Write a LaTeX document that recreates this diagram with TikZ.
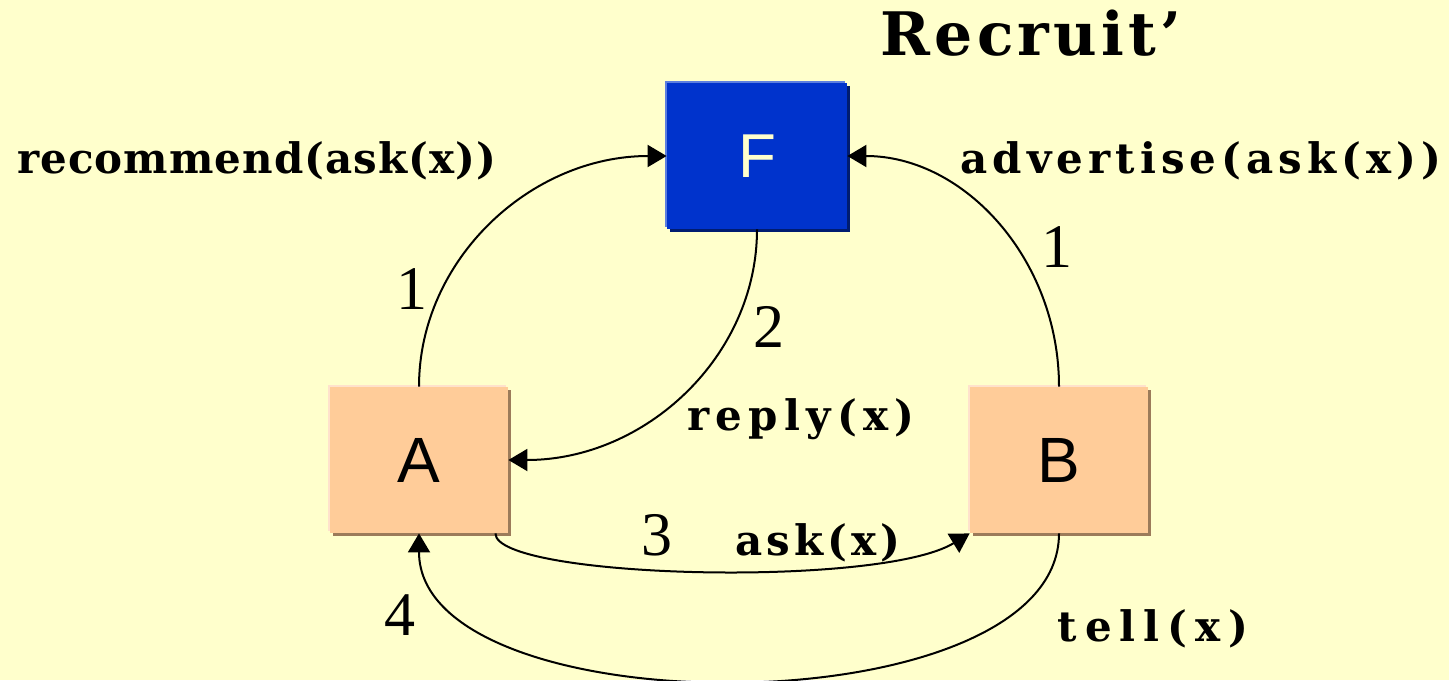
\documentclass[tikz,border=0pt]{standalone}
\usepackage{fontspec}
\setmainfont{Liberation Serif}
\newfontfamily\labelfont{DejaVu Serif}
\newfontfamily\boxfont{Liberation Sans}
\usetikzlibrary{calc}
\usetikzlibrary{arrows.meta}
\usetikzlibrary{shadows}

\definecolor{bgyellow}{HTML}{FFFFCC}
\definecolor{fblue}{HTML}{0033CC}
\definecolor{fshade}{HTML}{001C70}
\definecolor{fedge}{HTML}{5C7FE0}
\definecolor{agentfill}{HTML}{FFCC99}
\definecolor{agentshade}{HTML}{9C7B5A}
\definecolor{agentedge}{HTML}{FFE2CC}

\begin{document}
\begin{tikzpicture}[x=0.5pt,y=-0.5pt,
    agent/.style={minimum width=89pt,minimum height=73pt,inner sep=0pt,
      fill=agentfill,font=\boxfont\fontsize{32}{32}\selectfont,
      general shadow={shadow xshift=1.5pt,shadow yshift=-1.5pt,fill=agentshade},
      general shadow={shadow xshift=-1pt,shadow yshift=1pt,fill=agentedge}},
    facil/.style={minimum width=90pt,minimum height=73pt,inner sep=0pt,
      fill=fblue,text=bgyellow,font=\boxfont\fontsize{31}{31}\selectfont,
      general shadow={shadow xshift=1.5pt,shadow yshift=-1.5pt,fill=fshade},
      general shadow={shadow xshift=-1pt,shadow yshift=1pt,fill=fedge}},
    msg/.style={font=\labelfont\bfseries\fontsize{21}{21}\selectfont\addfontfeature{LetterSpace=#1},anchor=base},
    msg/.default=0,
    num/.style={font=\fontsize{31}{31}\selectfont,anchor=base},
    flow/.style={line width=1pt,-{Triangle[length=9.5pt,width=11pt]}}]

    % Fond
    \useasboundingbox (0,0) rectangle (1449,680);
    \fill[bgyellow] (0,0) rectangle (1449,680);

    % Titre
    \node[font=\labelfont\bfseries\fontsize{30}{30}\selectfont\addfontfeature{LetterSpace=7},anchor=base] (title) at (1031,55) {Recruit’};

    % Agents
    \node[facil] (F) at (757,156) {F};
    \node[agent] (A) at (419,460) {A};
    \node[agent] (B) at (1059,460) {B};

    % Messages
    \draw[flow] (A.north) .. controls +(0,-127) and +(-136,0) .. (F.west);
    \draw[flow] (B.north) .. controls +(0,-127) and +(117,0) .. (F.east);
    \draw[flow] (F.south) .. controls +(0,127) and +(137,0) .. (A.east);
    \draw[flow] ([xshift=-6.5pt]A.south east) .. controls +(0,45) and +(-90,55) .. (B.south west);
    \draw[flow] (B.south) .. controls +(0,196) and +(0,196) .. (A.south);

    % Libelles
    \node[msg=2.5] (recommend) at (257,173) {recommend(ask(x))};
    \node[msg=12] (advertise) at (1201,173) {advertise(ask(x))};
    \node[msg=15] (reply) at (801,430) {reply(x)};
    \node[msg=9.5] (ask) at (818,555) {ask(x)};
    \node[msg=19] (tell) at (1153,641) {tell(x)};

    % Ordre des etapes
    \node[num] (n1a) at (412,309) {1};
    \node[num] (n1b) at (1057,267) {1};
    \node[num] (n2) at (769,347) {2};
    \node[num] (n3) at (657,555) {3};
    \node[num] (n4) at (400,635) {4};

\end{tikzpicture}
\end{document}
